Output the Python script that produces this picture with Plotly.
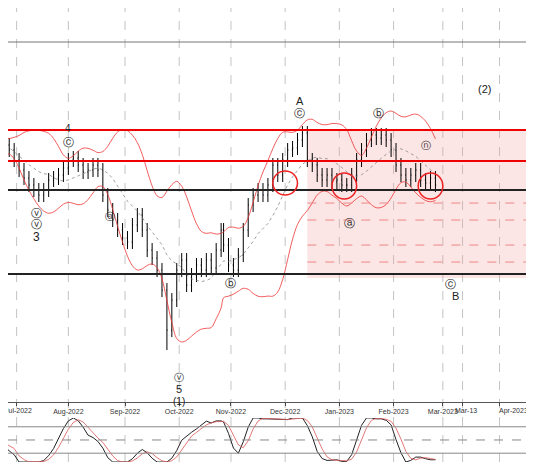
import plotly.graph_objects as go
import pandas as pd
import numpy as np

# closes (price units)
closes_px = [145,150,160,170,178,185,190,195,190,180,178,175,168,160,158,165,172,170,165,170,
             195,210,220,230,238,242,225,215,230,250,258,270,290,330,300,270,260,285,275,265,
             270,260,268,250,230,245,265,270,255,230,205,195,190,195,185,165,175,160,150,148,
             140,133,160,165,175,180,175,182,180,185,185,175,160,150,140,135,138,135,140,150,
             165,175,180,175,170,180,183,178,185]
close = [462 - v for v in closes_px]
bdays = pd.bdate_range("2022-06-24", "2023-02-24")
dates = bdays[np.linspace(0, len(bdays) - 1, len(close)).round().astype(int)]
open_ = [close[0]] + close[:-1]
high = [max(o, c) + 7 for o, c in zip(open_, close)]
low = [min(o, c) - 7 for o, c in zip(open_, close)]
low[33] = 462 - 350

month_ticks = ["2022-07-01","2022-08-01","2022-09-01","2022-10-03","2022-11-01","2022-12-01",
               "2023-01-02","2023-02-01","2023-03-01","2023-03-13","2023-04-03"]
month_text = ["Jul-2022","Aug-2022","Sep-2022","Oct-2022","Nov-2022","Dec-2022",
              "Jan-2023","Feb-2023","Mar-2023","Mar-13","Apr-2023"]
hlines_red = [462-130, 462-161]
hlines_black = [462-190, 462-274]
dashed_levels = [462-203, 462-220, 462-245, 462-262]

s = pd.Series(close, index=dates)
ma = s.rolling(10, min_periods=1).mean()
sd = s.rolling(10, min_periods=2).std().bfill()
up, dn = (ma + 2.2*sd).rolling(3, min_periods=1).mean(), (ma - 2.2*sd).rolling(3, min_periods=1).mean()
hh = s.rolling(9, min_periods=1).max(); ll = s.rolling(9, min_periods=1).min()
k = (100*(s-ll)/(hh-ll).replace(0, np.nan)).fillna(50).rolling(3, min_periods=1).mean()
d = k.rolling(3, min_periods=1).mean()

fig = go.Figure()
fig.add_trace(go.Ohlc(x=dates, open=open_, high=high, low=low, close=close,
                      increasing_line_color="black", decreasing_line_color="black",
                      line_width=1, tickwidth=0.3, yaxis="y", showlegend=False))
fig.add_trace(go.Scatter(x=dates, y=up, line=dict(color="#e33", width=0.8, shape="spline"), showlegend=False))
fig.add_trace(go.Scatter(x=dates, y=dn, line=dict(color="#e33", width=0.8, shape="spline"), showlegend=False))
fig.add_trace(go.Scatter(x=dates, y=ma, line=dict(color="#888", width=0.8, dash="dot"), showlegend=False))
fig.add_trace(go.Scatter(x=dates, y=k, yaxis="y2", line=dict(color="#222", width=1), showlegend=False))
fig.add_trace(go.Scatter(x=dates, y=d, yaxis="y2", line=dict(color="#d55", width=0.8), showlegend=False))

x0, x1 = "2022-06-27 12:00", "2023-04-21"
B = pd.offsets.BDay
shapes = [dict(type="rect", xref="x", yref="y", x0="2022-12-14", x1=x1, y0=462-278, y1=462-130,
               fillcolor="rgba(240,150,150,0.25)", line_width=0, layer="below")]
for y in hlines_red:
    shapes.append(dict(type="line", xref="paper", yref="y", x0=0, x1=1, y0=y, y1=y, line=dict(color="#e00", width=2)))
for y in hlines_black:
    shapes.append(dict(type="line", xref="paper", yref="y", x0=0, x1=1, y0=y, y1=y, line=dict(color="#222", width=2)))
shapes.append(dict(type="line", xref="paper", yref="y", x0=0, x1=1, y0=462-42, y1=462-42, line=dict(color="#777", width=1)))
for y in dashed_levels:
    shapes.append(dict(type="line", xref="x", yref="y", x0="2022-12-14", x1=x1, y0=y, y1=y, line=dict(color="#e88", width=1, dash="dash")))
for t in month_ticks:
    shapes.append(dict(type="line", xref="x", yref="paper", x0=t, x1=t, y0=0, y1=1, line=dict(color="#aaa", width=0.7, dash="dash"), layer="below"))
for yl, dash in [(80, "solid"), (50, "dash"), (20, "solid")]:
    shapes.append(dict(type="line", xref="paper", yref="y2", x0=0, x1=1, y0=yl, y1=yl, line=dict(color="#888", width=1, dash=dash)))
for cx, cy, r in [("2022-12-01", 183, 12), ("2023-01-04", 186, 13), ("2023-02-22", 186, 13)]:
    c = pd.Timestamp(cx)
    shapes.append(dict(type="circle", xref="x", yref="y", x0=c - B(5), x1=c + B(5),
                       y0=462-cy-r, y1=462-cy+r, line=dict(color="#e22", width=1.5)))

labels = [("2022-07-13", 237, "3", 12), ("2022-08-01", 128, "4", 10), ("2022-10-03", 389, "5", 11),
          ("2022-10-03", 401, "(1)", 10), ("2022-12-09", 101, "A", 11), ("2023-03-08", 296, "B", 11),
          ("2023-03-24", 89, "(2)", 11), ("2022-07-13", 213, "ⓥ", 11), ("2022-07-13", 224, "ⓥ", 11),
          ("2022-08-01", 142, "ⓒ", 11), ("2022-12-09", 113, "ⓒ", 11), ("2023-01-24", 113, "ⓑ", 11),
          ("2023-01-06", 223, "ⓐ", 11), ("2022-10-03", 377, "ⓥ", 10), ("2023-03-06", 284, "ⓒ", 11),
          ("2022-11-01", 283, "ⓑ", 11), ("2022-08-24", 216, "ⓐ", 10), ("2023-02-20", 145, "ⓝ", 10)]
anns = [dict(x=x, y=462-y, xref="x", yref="y", text=t, showarrow=False, font=dict(size=s, color="#222")) for x, y, t, s in labels]
# edge tick labels drawn as annotations so they are not hidden / overlapping
edge = {0: dict(xanchor="center", xshift=2), 9: dict(xanchor="center", xshift=3), 10: dict(xanchor="center", xshift=14)}
for i, kw in edge.items():
    anns.append(dict(x=month_ticks[i], y=0.125, xref="x", yref="paper", yanchor="top", text=month_text[i],
                     showarrow=False, font=dict(size=7, color="#333"), **kw))
tick_text_axis = ["" if i in edge else t for i, t in enumerate(month_text)]

fig.update_layout(
    width=526, height=454, margin=dict(l=0, r=0, t=0, b=0),
    paper_bgcolor="white", plot_bgcolor="white", shapes=shapes, annotations=anns,
    font=dict(family="Liberation Sans", size=9, color="#333"),
    xaxis=dict(range=[x0, x1], tickvals=month_ticks, ticktext=tick_text_axis, showgrid=False, tickangle=0,
               rangebreaks=[dict(bounds=["sat", "mon"])],
               automargin=False, rangeslider=dict(visible=False), ticks="outside", ticklen=3,
               showline=True, linecolor="#555", anchor="y", tickfont=dict(size=7)),
    yaxis=dict(domain=[0.132, 1], range=[60, 454], showticklabels=False, showgrid=False, zeroline=False, automargin=False),
    yaxis2=dict(domain=[0, 0.097], range=[0, 100], showticklabels=False, showgrid=False, zeroline=False, automargin=False),
)
fig.write_html("out.html")
